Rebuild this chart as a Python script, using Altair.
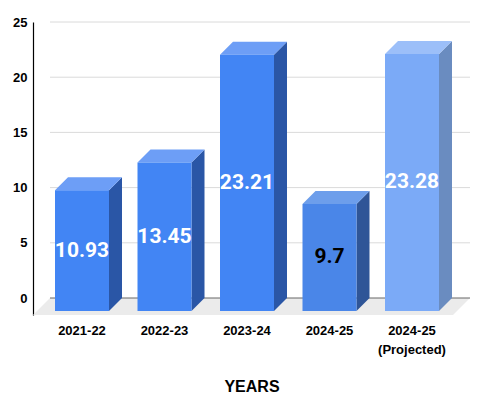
import altair as alt
import pandas as pd

categories = ["2021-22", "2022-23", "2023-24", "2024-25", "2024-25\n(Projected)"]
values = [10.93, 13.45, 23.21, 9.7, 23.28]
value_labels = ["10.93", "13.45", "23.21", "9.7", "23.28"]
y_ticks = [0, 5, 10, 15, 20, 25]

front_colors = ["#4285f4", "#4285f4", "#4285f4", "#4a86e8", "#7baaf7"]
top_colors = ["#6d9ef6", "#6d9ef6", "#6d9ef6", "#6d9eeb", "#9cbff9"]
side_colors = ["#2a56a6", "#2a56a6", "#2a56a6", "#2f5597", "#6a8cc0"]
label_colors = ["#ffffff", "#ffffff", "#ffffff", "#000000", "#ffffff"]

# geometry (style) constants
PX_Y = 11.04
PX_X = 82.5
W, H = 437, 293
depth_y = 13 / PX_Y
depth_x = 13 / PX_X
half = 27 / PX_X
floor_y = 17 / PX_Y
floor_x = 17 / PX_X
x_min = -49 / PX_X
x_max = x_min + W / PX_X
y_min = 25 - H / PX_Y
y_max = 25

xs = alt.Scale(domain=[x_min, x_max], nice=False, zero=False)
ys = alt.Scale(domain=[y_min, y_max], nice=False, zero=False)

front = pd.DataFrame({
    "bar": list(range(len(values))),
    "x": [i - half for i in range(len(values))],
    "x2": [i + half for i in range(len(values))],
    "y": [-depth_y] * len(values),
    "y2": [v - depth_y for v in values],
    "c": front_colors,
})

side_rows, top_rows = [], []
for i, v in enumerate(values):
    side_rows.append({"bar": i, "x": i + half, "y": -depth_y, "y2": v - depth_y, "c": side_colors[i]})
    side_rows.append({"bar": i, "x": i + half + depth_x, "y": 0.0, "y2": v, "c": side_colors[i]})
    top_rows.append({"bar": i, "y": v - depth_y, "x": i - half, "x2": i + half, "c": top_colors[i]})
    top_rows.append({"bar": i, "y": v, "x": i - half + depth_x, "x2": i + half + depth_x, "c": top_colors[i]})
side = pd.DataFrame(side_rows)
top = pd.DataFrame(top_rows)

labels = pd.DataFrame({
    "x": list(range(len(values))),
    "y": [v / 2 - depth_y for v in values],
    "t": value_labels,
    "c": label_colors,
})

cats = pd.DataFrame({"x": list(range(len(categories))), "cat": categories})

floor = pd.DataFrame({
    "y": [y_min, 0.0],
    "x": [x_min, x_min + floor_x],
    "x2": [x_max - floor_x, x_max],
})

grid = pd.DataFrame({
    "y": y_ticks,
    "x": [x_min + floor_x] * len(y_ticks),
    "x2": [x_max] * len(y_ticks),
    "c": ["#666666" if t == 0 else "#dadada" for t in y_ticks],
})

x_axis = alt.Axis(labels=False, ticks=False, domain=False, grid=False, title="YEARS",
                  titleFont="Liberation Sans", titleFontSize=16, titleFontWeight="bold",
                  titleColor="#000000", titlePadding=63)
y_axis = alt.Axis(values=y_ticks, grid=False, ticks=False, domain=True, domainColor="#000000",
                  domainWidth=1.2, labelFont="Liberation Sans", labelFontSize=13,
                  labelFontWeight="bold", labelColor="#000000", labelPadding=6, title=None)

floor_layer = alt.Chart(floor).mark_area(orient="horizontal", color="#ebebeb").encode(
    y=alt.Y("y:Q", scale=ys, axis=y_axis),
    x=alt.X("x:Q", scale=xs, axis=x_axis),
    x2="x2:Q",
)

grid_layer = alt.Chart(grid).mark_rule(strokeWidth=1).encode(
    y="y:Q", x="x:Q", x2="x2:Q", color=alt.Color("c:N", scale=None),
)

side_layer = alt.Chart(side).mark_area(orient="vertical").encode(
    x="x:Q", y="y:Q", y2="y2:Q", detail="bar:N", color=alt.Color("c:N", scale=None),
)

top_layer = alt.Chart(top).mark_area(orient="horizontal").encode(
    y="y:Q", x="x:Q", x2="x2:Q", detail="bar:N", color=alt.Color("c:N", scale=None),
)

front_layer = alt.Chart(front).mark_rect().encode(
    x="x:Q", x2="x2:Q", y="y:Q", y2="y2:Q", color=alt.Color("c:N", scale=None),
)

label_layer = alt.Chart(labels).mark_text(font="Roboto", fontSize=21, fontWeight="bold",
                                          align="center", baseline="middle").encode(
    x="x:Q", y="y:Q", text="t:N", color=alt.Color("c:N", scale=None),
)

cat_layer = alt.Chart(cats).mark_text(font="Liberation Sans", fontSize=13, fontWeight="bold",
                                      align="center", baseline="top", lineBreak="\n",
                                      lineHeight=19, color="#000000").encode(
    x="x:Q", y=alt.value(303), text="cat:N",
)

chart = alt.layer(floor_layer, grid_layer, side_layer, top_layer, front_layer,
                  label_layer, cat_layer).properties(
    width=W, height=H,
    autosize=alt.AutoSizeParams(type="none"),
    padding={"left": 25, "top": 14, "right": 0, "bottom": 78},
    background="#ffffff",
).configure_view(stroke=None)

chart.save("out.html", embed_options={"renderer": "svg", "actions": False})
